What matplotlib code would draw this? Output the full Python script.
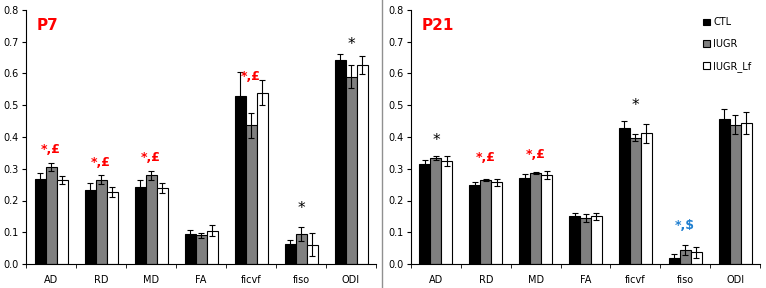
import numpy as np
import matplotlib.pyplot as plt
from matplotlib.lines import Line2D

categories = ["AD", "RD", "MD", "FA", "ficvf", "fiso", "ODI"]
groups = ["CTL", "IUGR", "IUGR_Lf"]
colors = ["#000000", "#808080", "#ffffff"]

# P7 means and errors (CTL, IUGR, IUGR_Lf)
p7_ctl = [0.268, 0.232, 0.244, 0.094, 0.529, 0.064, 0.641]
p7_iugr = [0.305, 0.266, 0.279, 0.091, 0.437, 0.094, 0.590]
p7_lf = [0.265, 0.227, 0.239, 0.105, 0.540, 0.061, 0.627]
p7_ctl_err = [0.020, 0.022, 0.021, 0.013, 0.076, 0.013, 0.021]
p7_iugr_err = [0.013, 0.013, 0.014, 0.008, 0.040, 0.023, 0.036]
p7_lf_err = [0.013, 0.015, 0.015, 0.018, 0.038, 0.036, 0.029]

# P21
p21_ctl = [0.315, 0.249, 0.272, 0.151, 0.428, 0.019, 0.457]
p21_iugr = [0.333, 0.265, 0.287, 0.145, 0.398, 0.045, 0.439]
p21_lf = [0.325, 0.257, 0.280, 0.150, 0.412, 0.037, 0.443]
p21_ctl_err = [0.013, 0.010, 0.010, 0.010, 0.022, 0.012, 0.030]
p21_iugr_err = [0.007, 0.004, 0.004, 0.012, 0.012, 0.016, 0.030]
p21_lf_err = [0.015, 0.010, 0.012, 0.012, 0.030, 0.018, 0.035]

# significance marks: (category index, y, text, colour)
p7_marks = [(0, 0.36, "*,£", "red"), (1, 0.32, "*,£", "red"), (2, 0.335, "*,£", "red"),
            (4, 0.59, "*,£", "red"), (5, 0.175, "*", "black"), (6, 0.69, "*", "black")]
p21_marks = [(0, 0.39, "*", "black"), (1, 0.335, "*,£", "red"), (2, 0.345, "*,£", "red"),
             (4, 0.50, "*", "black"), (5, 0.12, "*,$", "#1f7fd0")]

fig = plt.figure(figsize=(7.66, 2.88), dpi=100)
ax1 = fig.add_axes([26 / 766, 24 / 288, 350 / 766, 254 / 288])
ax2 = fig.add_axes([411 / 766, 24 / 288, 349 / 766, 254 / 288])

# separator line between panels
fig.add_artist(Line2D([382 / 766, 382 / 766], [0, 1], color="#909090", lw=1))


def draw_panel(ax, means, errs, marks, title):
    x = np.arange(len(categories))
    w = 0.22
    for i, (m, e) in enumerate(zip(means, errs)):
        ax.bar(x + (i - 1) * w, m, w, color=colors[i], edgecolor="black", lw=0.8,
               yerr=e, capsize=2, error_kw=dict(elinewidth=0.8, capthick=0.8), zorder=2)
    for ci, y, txt, c in marks:
        fs = 11 if txt == "*" else 9
        ax.text(ci, y, txt, ha="center", va="center", color=c, fontsize=fs,
                fontweight="bold" if txt != "*" else "normal")
    ax.text(0.03, 0.94, title, transform=ax.transAxes, color="red", fontsize=11,
            fontweight="bold", ha="left", va="center")
    ax.set_xlim(-0.5, len(categories) - 0.5)
    ax.set_ylim(0, 0.8)
    ax.set_yticks(np.arange(0, 0.81, 0.1))
    ax.set_yticklabels([f"{v:.1f}" for v in np.arange(0, 0.81, 0.1)], fontsize=7)
    ax.set_xticks(x)
    ax.set_xticklabels(categories, fontsize=7)
    ax.tick_params(axis="x", length=0, pad=8)
    ax.set_xticks(np.arange(-0.5, len(categories)), minor=True)
    ax.tick_params(axis="x", which="minor", length=3, direction="out")
    ax.tick_params(axis="y", length=3, direction="out", pad=2)
    for s in ["top", "right"]:
        ax.spines[s].set_visible(False)
    ax.spines["left"].set_linewidth(0.8)
    ax.spines["bottom"].set_linewidth(0.8)


draw_panel(ax1, [p7_ctl, p7_iugr, p7_lf], [p7_ctl_err, p7_iugr_err, p7_lf_err], p7_marks, "P7")
draw_panel(ax2, [p21_ctl, p21_iugr, p21_lf], [p21_ctl_err, p21_iugr_err, p21_lf_err], p21_marks, "P21")

handles = [plt.Rectangle((0, 0), 1, 1, facecolor=c, edgecolor="black", lw=0.8) for c in colors]
ax2.legend(handles, groups, loc="upper right", bbox_to_anchor=(1.0, 1.005), frameon=False,
           fontsize=7, handlelength=0.7, handleheight=0.7, handletextpad=0.3,
           labelspacing=1.2)

fig.savefig("out.png", dpi=100)
